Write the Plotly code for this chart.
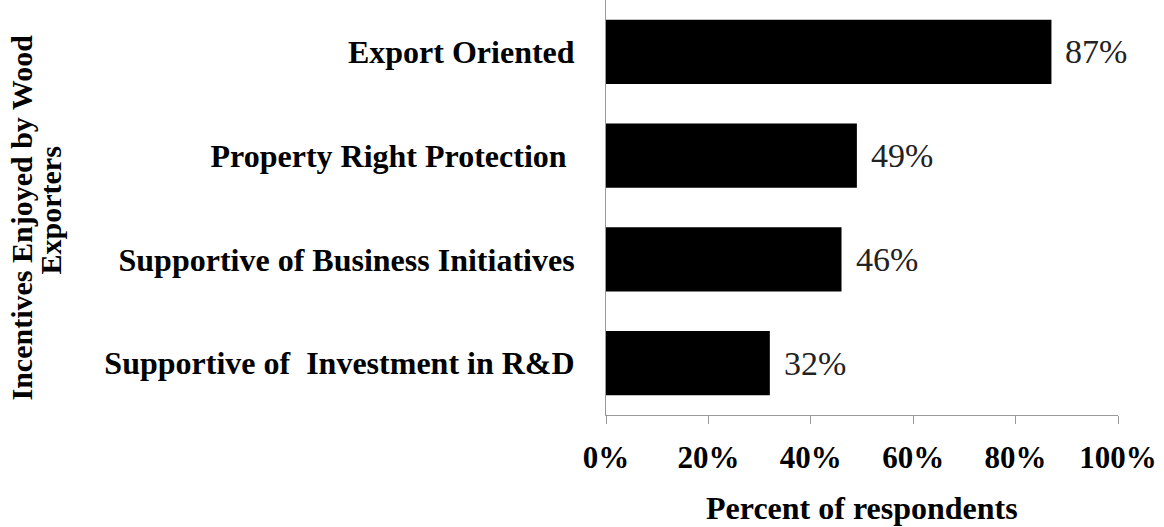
import plotly.graph_objects as go

categories = ["Supportive of  Investment in R&D", "Supportive of Business Initiatives",
              "Property Right Protection ", "Export Oriented"]
values = [32, 46, 49, 87]
value_labels = ["32%", "46%", "49%", "87%"]
x_ticks = [0, 20, 40, 60, 80, 100]
x_tick_labels = ["0%", "20%", "40%", "60%", "80%", "100%"]
y_title_lines = ["Incentives Enjoyed by Wood", "Exporters"]
x_title = "Percent of respondents"

SERIF = "Liberation Serif, Times New Roman, serif"

fig = go.Figure()
fig.add_trace(go.Bar(
    y=categories, x=values, orientation="h",
    marker=dict(color="black", line=dict(width=0)),
    width=0.62, hoverinfo="skip",
))

for c, v, t in zip(categories, values, value_labels):
    fig.add_annotation(x=v, y=c, xref="x", yref="y", text=t, showarrow=False,
                       xanchor="left", xshift=12,
                       font=dict(family=SERIF, size=34, color="#222"))

for line, px, ys in zip(y_title_lines, [21, 50], [-10, -3]):
    fig.add_annotation(xref="paper", yref="paper", x=(px - 606) / 512, y=0.5,
                       yshift=ys,
                       text="<b>" + line + "</b>",
                       textangle=-90, showarrow=False, xanchor="center", yanchor="middle",
                       font=dict(family=SERIF, size=30, color="black"))

fig.add_annotation(xref="paper", yref="paper", x=0.5, y=0, yshift=-93,
                   text="<b>" + x_title + "</b>", showarrow=False,
                   xanchor="center", yanchor="middle",
                   font=dict(family=SERIF, size=32, color="black"))

fig.update_layout(
    width=1164, height=527,
    margin=dict(l=606, r=46, t=0, b=112),
    paper_bgcolor="white", plot_bgcolor="white",
    showlegend=False,
    xaxis=dict(range=[0, 100], tickvals=x_ticks, ticktext=x_tick_labels,
               showgrid=False, zeroline=False, showline=True, linecolor="#999",
               linewidth=1, ticks="outside", ticklen=8, tickcolor="#999",
               ticklabelstandoff=7,
               tickfont=dict(family=SERIF, size=31, color="black", weight="bold")),
    yaxis=dict(showgrid=False, zeroline=False, showline=True, linecolor="#999",
               linewidth=1, ticks="", ticklabelstandoff=24,
               range=[-0.5, 3.5],
               tickfont=dict(family=SERIF, size=32, color="black", weight="bold")),
)

fig.write_html("out.html")
